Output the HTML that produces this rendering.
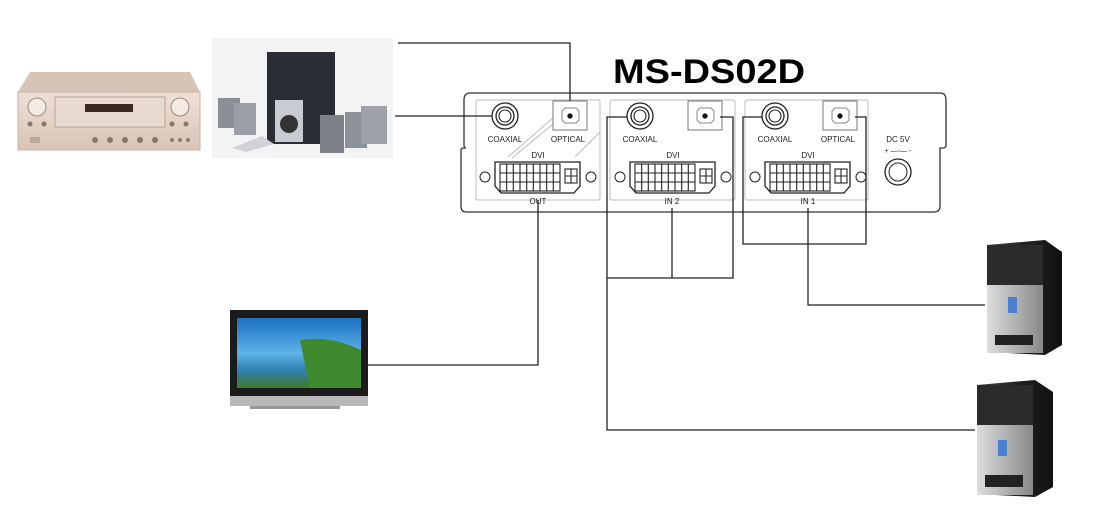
<!DOCTYPE html>
<html><head><meta charset="utf-8"><style>
html,body{margin:0;padding:0;background:#fff;width:1094px;height:513px;overflow:hidden}
svg{display:block}
text{font-family:"Liberation Sans",sans-serif}
</style></head><body>
<svg width="1094" height="513" viewBox="0 0 1094 513" xmlns="http://www.w3.org/2000/svg">
<defs>
<linearGradient id="amp" x1="0" y1="0" x2="0" y2="1"><stop offset="0" stop-color="#efe0d6"/><stop offset="1" stop-color="#d9c4b6"/></linearGradient>
<linearGradient id="sky" x1="0" y1="0" x2="0" y2="1"><stop offset="0" stop-color="#1a6fc0"/><stop offset=".5" stop-color="#5fb4e8"/><stop offset=".75" stop-color="#2f7fb0"/><stop offset="1" stop-color="#3f7a2a"/></linearGradient>
<linearGradient id="pc" x1="0" y1="0" x2="1" y2="0"><stop offset="0" stop-color="#444"/><stop offset=".5" stop-color="#222"/><stop offset="1" stop-color="#111"/></linearGradient>
<linearGradient id="pcs" x1="0" y1="0" x2="1" y2="0"><stop offset="0" stop-color="#ddd"/><stop offset=".6" stop-color="#aaa"/><stop offset="1" stop-color="#888"/></linearGradient>
</defs>

<!-- amplifier -->
<g>
<polygon points="30,72 190,72 200,92 18,92" fill="#d8c4b6"/>
<rect x="18" y="92" width="182" height="58" fill="url(#amp)" stroke="#c9b3a4"/>
<rect x="55" y="97" width="110" height="30" fill="#e8dad0" stroke="#b8a496"/>
<rect x="85" y="104" width="48" height="8" fill="#3a2a22"/>
<circle cx="37" cy="107" r="9" fill="#f4ebe4" stroke="#9d8a7d"/>
<circle cx="180" cy="107" r="9" fill="#f4ebe4" stroke="#9d8a7d"/>
<g fill="#8a776b"><circle cx="30" cy="124" r="2.5"/><circle cx="44" cy="124" r="2.5"/><circle cx="172" cy="124" r="2.5"/><circle cx="186" cy="124" r="2.5"/>
<circle cx="95" cy="140" r="3"/><circle cx="110" cy="140" r="3"/><circle cx="125" cy="140" r="3"/><circle cx="140" cy="140" r="3"/><circle cx="155" cy="140" r="3"/>
<circle cx="172" cy="140" r="2"/><circle cx="180" cy="140" r="2"/><circle cx="188" cy="140" r="2"/></g>
<rect x="30" y="137" width="10" height="6" fill="#bba898"/>
</g>

<!-- speakers -->
<g>
<rect x="212" y="38" width="181" height="120" fill="#f3f3f3"/>
<rect x="267" y="52" width="68" height="92" fill="#2a2d33"/>
<rect x="275" y="100" width="28" height="42" fill="#c8ccd2"/>
<circle cx="289" cy="124" r="9" fill="#333"/>
<rect x="218" y="98" width="22" height="30" fill="#8a9096"/>
<rect x="234" y="103" width="22" height="32" fill="#9aa0a6"/>
<rect x="320" y="115" width="24" height="38" fill="#7c8288"/>
<rect x="345" y="112" width="22" height="36" fill="#8c9298"/>
<rect x="361" y="106" width="26" height="38" fill="#9ca2a8"/>
<path d="M232,148 L262,136 L274,144 L246,152 Z" fill="#cfd3d8"/>
</g>

<!-- TV -->
<g>
<rect x="230" y="310" width="138" height="92" fill="#1b1b1b"/>
<rect x="237" y="318" width="124" height="70" fill="url(#sky)"/>
<path d="M300,340 Q330,335 361,350 L361,388 L310,388 Z" fill="#3f8a2f"/>
<rect x="230" y="396" width="138" height="10" fill="#b8b8b8"/>
<rect x="250" y="406" width="90" height="3" fill="#999"/>
</g>

<!-- PCs -->
<g>
<polygon points="987,245 1045,240 1062,252 1062,345 1045,355 987,352" fill="url(#pc)"/>
<rect x="987" y="245" width="56" height="60" fill="#2b2b2b"/>
<rect x="987" y="285" width="56" height="68" fill="url(#pcs)"/>
<rect x="1008" y="297" width="9" height="16" fill="#4a7fd0"/>
<rect x="995" y="335" width="38" height="10" fill="#222"/>
</g>
<g>
<polygon points="977,385 1035,380 1053,392 1053,487 1035,497 977,494" fill="url(#pc)"/>
<rect x="977" y="385" width="56" height="60" fill="#2b2b2b"/>
<rect x="977" y="425" width="56" height="70" fill="url(#pcs)"/>
<rect x="998" y="440" width="9" height="16" fill="#4a7fd0"/>
<rect x="985" y="475" width="38" height="12" fill="#222"/>
</g>

<!-- title -->
<text x="613" y="83" font-size="34" font-weight="bold" textLength="192" lengthAdjust="spacingAndGlyphs" fill="#000">MS-DS02D</text>

<!-- panel outline -->
<path d="M470,93 L940,93 Q946,93 946,100 L946,145 Q946,148 943,148 L940,148 Q940,148 940,150 L940,206 Q940,212 934,212 L466,212 Q461,212 461,206 L461,150 Q461,148 464,148 L466,148 Q464,148 464,145 L464,100 Q464,93 470,93 Z" fill="none" stroke="#333" stroke-width="1.3"/>

<g fill="none" stroke="#bbb" stroke-width="1">
<rect x="476" y="100" width="124" height="100" rx="2"/>
<rect x="610" y="100" width="125" height="100" rx="2"/>
<rect x="745" y="100" width="123" height="100" rx="2"/>
<line x1="508" y1="157" x2="553" y2="118"/><line x1="512" y1="158" x2="558" y2="120"/>
<line x1="575" y1="157" x2="600" y2="132"/>
</g>

<!-- connectors -->
<g stroke="#222" fill="#fff">
<g id="sec">
<circle cx="505" cy="116" r="13" stroke-width="1.3"/><circle cx="505" cy="116" r="9" stroke-width="1.3"/><circle cx="505" cy="116" r="6" stroke-width="1.1"/>
<rect x="553" y="101" width="34" height="29" stroke="#777"/>
<path d="M562,111 L565,108 L576,108 L579,111 L579,120 L576,123 L565,123 L562,120 Z" stroke="#888"/>
<circle cx="570" cy="116" r="2.2" fill="#111"/>
<path d="M495,162 L580,162 L580,186 L574,193 L501,193 L495,186 Z" stroke-width="1.3"/>
<g stroke-width="1.1">
<rect x="500" y="164" width="60" height="27" fill="#fff"/>
<path d="M506.7,164 V191 M513.3,164 V191 M520,164 V191 M526.7,164 V191 M533.3,164 V191 M540,164 V191 M546.7,164 V191 M553.3,164 V191 M500,173 H560 M500,182 H560" fill="none"/>
<rect x="565" y="169" width="12" height="14"/><path d="M571,169 V183 M565,176 H577" fill="none"/>
</g>
<circle cx="485" cy="177" r="5"/><circle cx="591" cy="177" r="5"/>
</g>
<use href="#sec" x="135"/>
<use href="#sec" x="270"/>
<circle cx="898" cy="172" r="13" stroke-width="1.3"/><circle cx="898" cy="172" r="9" stroke-width="1"/>
</g>
<rect x="553" y="101" width="0" height="0"/>

<g font-size="8" fill="#222" text-anchor="middle" font-family="Liberation Sans Narrow, Liberation Sans, sans-serif">
<text x="505" y="142">COAXIAL</text><text x="568" y="142">OPTICAL</text><text x="538" y="158">DVI</text><text x="538" y="204">OUT</text>
<text x="640" y="142">COAXIAL</text><text x="673" y="158">DVI</text><text x="672" y="204">IN 2</text>
<text x="775" y="142">COAXIAL</text><text x="838" y="142">OPTICAL</text><text x="808" y="158">DVI</text><text x="808" y="204">IN 1</text>
<text x="898" y="142">DC 5V</text>
<text x="898" y="153" font-size="7">+ —◦— -</text>
</g>

<!-- wiring -->
<g fill="none" stroke="#222" stroke-width="1.3">
<path d="M398,43 H570 V101"/>
<path d="M395,116 H492"/>
<path d="M538,200 V365 H367"/>
<path d="M627,117 H607 V430 H975"/>
<path d="M720,117 H733 V278 H607"/>
<path d="M672,208 V278"/>
<path d="M762,117 H743 V244 H866 V117 H855"/>
<path d="M808,208 V305 H985"/>
</g>
</svg>
</body></html>
